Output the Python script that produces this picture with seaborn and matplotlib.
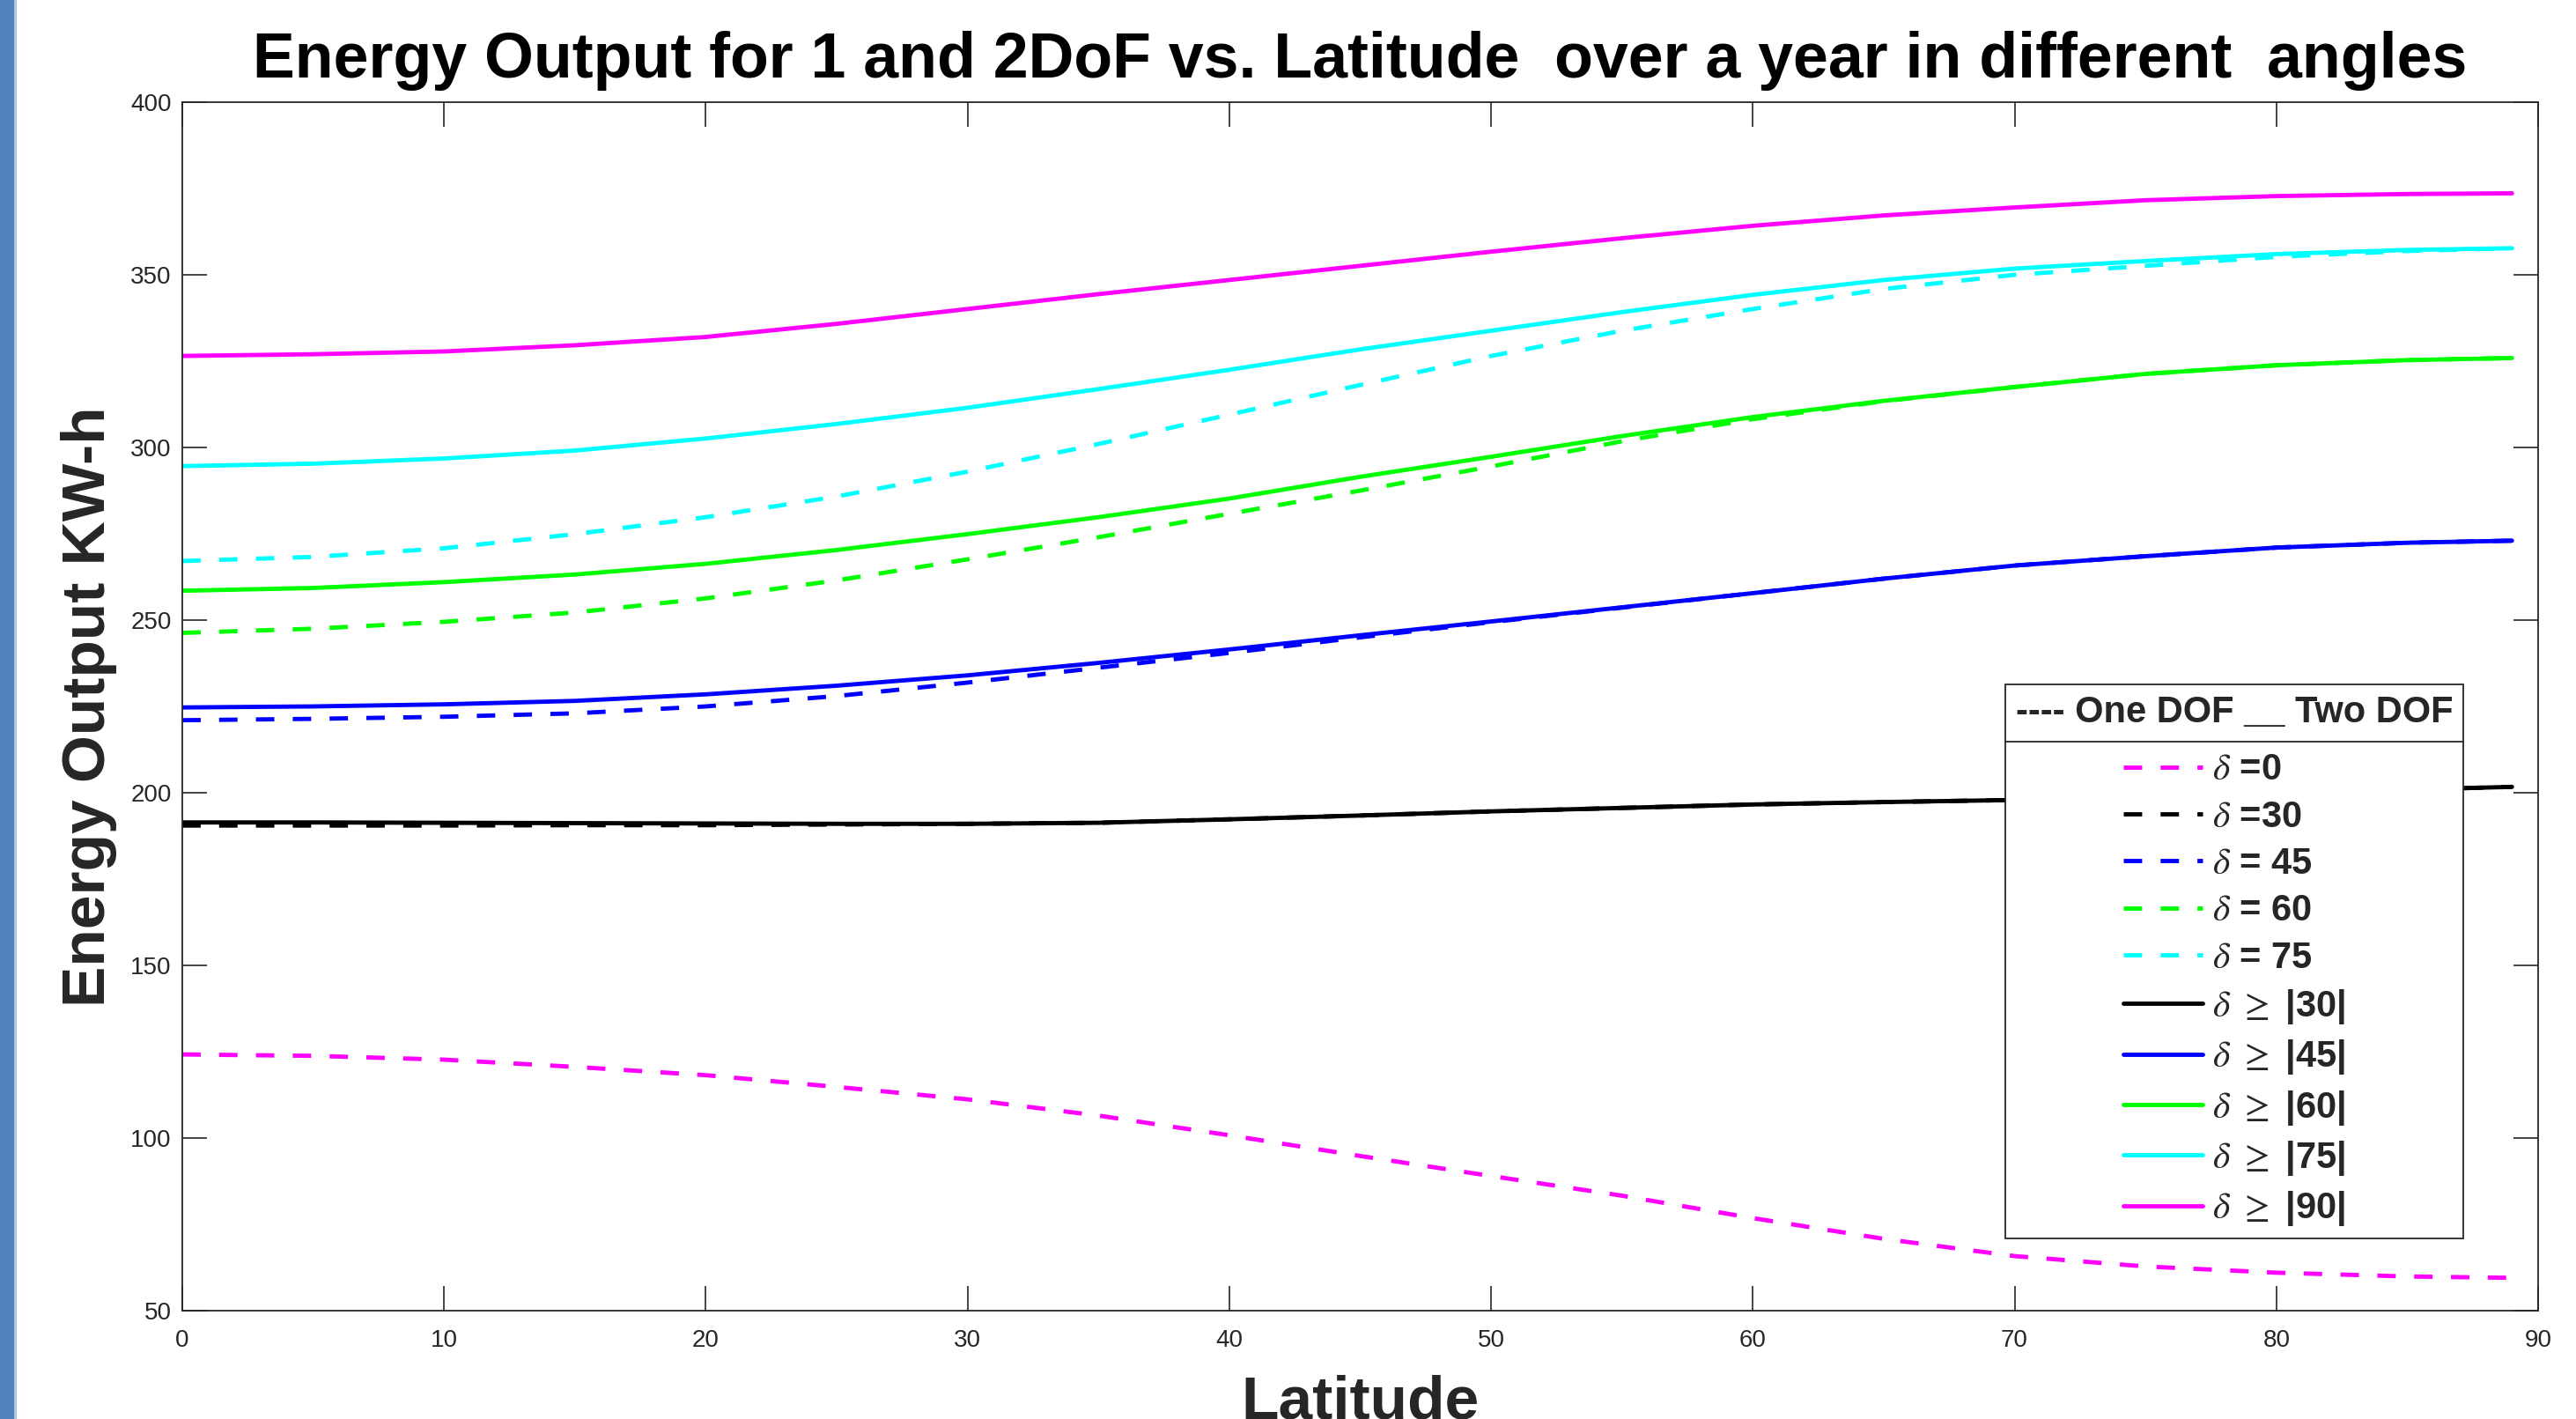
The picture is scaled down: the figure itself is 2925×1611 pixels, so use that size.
import pandas as pd
import seaborn as sns
from matplotlib import pyplot as plt
from matplotlib.lines import Line2D
from matplotlib.patches import Rectangle

# latitude samples (deg)
latitude = [0, 5, 10, 15, 20, 25, 30, 35, 40, 45, 50, 55, 60, 65, 70, 75, 80, 85, 89]

# one degree of freedom (dashed)
one_dof_0 = [124.2, 123.8, 122.7, 120.6, 118.2, 114.8, 111.2, 106.5, 100.8, 94.8,
             89.0, 83.3, 76.8, 70.8, 65.8, 62.8, 61.0, 59.9, 59.5]
one_dof_30 = [190.5, 190.5, 190.5, 190.6, 190.6, 190.8, 191.0, 191.3, 192.3, 193.4,
              194.6, 195.6, 196.6, 197.3, 197.9, 198.8, 199.8, 200.9, 201.7]
one_dof_45 = [221.0, 221.4, 222.0, 223.0, 225.0, 228.0, 231.9, 236.2, 240.5, 245.0,
              249.4, 253.6, 257.8, 262.0, 265.8, 268.5, 271.0, 272.4, 273.0]
one_dof_60 = [246.3, 247.5, 249.5, 252.2, 256.3, 261.5, 267.6, 274.0, 280.8, 287.5,
              294.5, 301.8, 308.2, 313.4, 317.5, 321.3, 323.8, 325.3, 325.9]
one_dof_75 = [267.1, 268.3, 270.8, 274.9, 279.8, 285.8, 293.0, 301.0, 309.5, 318.1,
              326.5, 333.8, 340.1, 345.9, 350.0, 352.6, 355.2, 356.9, 357.7]

# two degrees of freedom (solid)
two_dof_30 = [191.4, 191.4, 191.3, 191.2, 191.1, 191.0, 191.0, 191.3, 192.3, 193.4,
              194.6, 195.6, 196.6, 197.3, 197.9, 198.8, 199.8, 200.9, 201.7]
two_dof_45 = [224.7, 225.0, 225.6, 226.6, 228.5, 231.0, 234.0, 237.6, 241.5, 245.6,
              249.6, 253.7, 257.8, 262.0, 265.8, 268.5, 271.0, 272.4, 273.0]
two_dof_60 = [258.5, 259.3, 261.0, 263.2, 266.3, 270.3, 274.9, 279.8, 285.2, 291.5,
              297.3, 303.3, 308.8, 313.5, 317.5, 321.3, 323.8, 325.3, 325.9]
two_dof_75 = [294.6, 295.3, 296.8, 299.1, 302.6, 306.8, 311.5, 316.9, 322.5, 328.4,
              333.8, 339.2, 344.2, 348.5, 351.8, 354.0, 356.0, 357.2, 357.7]
two_dof_90 = [326.5, 327.0, 327.8, 329.6, 332.0, 335.8, 340.1, 344.4, 348.5, 352.6,
              356.7, 360.6, 364.2, 367.2, 369.5, 371.6, 372.8, 373.4, 373.6]

labels = [r'$\delta$ =0', r'$\delta$ =30', r'$\delta$ = 45', r'$\delta$ = 60', r'$\delta$ = 75',
          r'$\delta$ $\geq$ |30|', r'$\delta$ $\geq$ |45|', r'$\delta$ $\geq$ |60|',
          r'$\delta$ $\geq$ |75|', r'$\delta$ $\geq$ |90|']
series = [one_dof_0, one_dof_30, one_dof_45, one_dof_60, one_dof_75,
          two_dof_30, two_dof_45, two_dof_60, two_dof_75, two_dof_90]
colors = ['#FF00FF', '#000000', '#0000FF', '#00FF00', '#00FFFF',
          '#000000', '#0000FF', '#00FF00', '#00FFFF', '#FF00FF']
dash_styles = [(4.3, 4.3)] * 5 + [''] * 5

rows = []
for lab, vals in zip(labels, series):
    for x, y in zip(latitude, vals):
        rows.append({'Latitude': x, 'Energy': y, 'series': lab})
df = pd.DataFrame(rows)

sns.set_style('white')
plt.rcParams['font.family'] = ['Liberation Sans', 'DejaVu Sans']
plt.rcParams['mathtext.fontset'] = 'stix'

fig = plt.figure(figsize=(29.25, 16.11), dpi=100)
ax = fig.add_axes([0.07077, 0.07635, 0.91453, 0.85165])

sns.lineplot(data=df, x='Latitude', y='Energy', hue='series', style='series',
             hue_order=labels, style_order=labels, palette=colors,
             dashes=dict(zip(labels, dash_styles)), linewidth=3.5,
             estimator=None, errorbar=None, legend=False, ax=ax)

ax.set_xlim(0, 90)
ax.set_ylim(50, 400)
ax.set_xticks(range(0, 91, 10))
ax.set_yticks(range(50, 401, 50))

dark = '#262626'
for sp in ax.spines.values():
    sp.set_visible(True)
    sp.set_color(dark)
    sp.set_linewidth(1.3)
ax.tick_params(axis='both', which='major', direction='in', length=20, width=1.2,
               color=dark, labelcolor=dark, labelsize=20,
               top=True, right=True, bottom=True, left=True)
ax.tick_params(axis='x', pad=15)
ax.tick_params(axis='y', pad=9)

ax.set_title('Energy Output for 1 and 2DoF vs. Latitude  over a year in different  angles',
             fontsize=51.7, fontweight='bold', color='black', pad=20)
ax.set_xlabel('Latitude', fontsize=50, fontweight='bold', color=dark)
ax.set_ylabel('Energy Output KW-h', fontsize=50, fontweight='bold', color=dark)
ax.xaxis.set_label_coords(0.5, -0.053)
ax.yaxis.set_label_coords(-0.0277, 0.5)

handles = ax.get_lines()[:len(labels)]
leg = ax.legend(handles, labels, title='---- One DOF __ Two DOF',
                loc='upper left', bbox_to_anchor=(0.7738, 0.5182), borderaxespad=0,
                prop={'weight': 'bold', 'size': 30},
                title_fontproperties={'weight': 'bold', 'size': 30},
                handlelength=2.16, handletextpad=0.26, labelspacing=0.32,
                borderpad=0.28, fancybox=False, framealpha=1, edgecolor=dark)
leg.get_frame().set_linewidth(1.3)
leg._legend_box.sep = 18.5  # gap between the title and the entries

# separator under the legend title
fig.canvas.draw()
fr = leg.get_frame().get_window_extent()
tb = leg.get_title().get_window_extent()
first = leg.get_texts()[0].get_window_extent()
ymid = (tb.y0 + first.y1) / 2
inv = fig.transFigure.inverted()
(x0, ysep), (x1, _) = inv.transform([(fr.x0, ymid), (fr.x1, ymid)])
fig.add_artist(Line2D([x0, x1], [ysep, ysep], transform=fig.transFigure,
                      color=dark, linewidth=1.3))

# slide border on the left
fig.add_artist(Rectangle((0, 0), 16 / 2925, 1, transform=fig.transFigure,
                         color='#4F81BD', linewidth=0))
fig.add_artist(Rectangle((16 / 2925, 0), 3 / 2925, 1, transform=fig.transFigure,
                         color='#A9C4E6', linewidth=0))

fig.savefig('out.png', dpi=100)
